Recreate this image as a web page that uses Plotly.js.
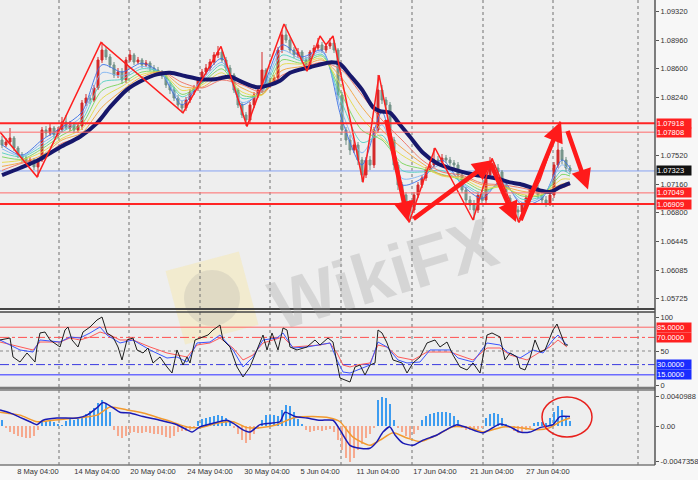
<!DOCTYPE html>
<html><head><meta charset="utf-8">
<script src="https://cdn.plot.ly/plotly-3.0.1.min.js"></script>
<style>html,body{margin:0;padding:0;background:#f7f7f7}#chart{width:698px;height:480px}</style>
</head><body><div id="chart"></div><script>
// ---------- DATA ----------
const dateLabels = ['8 May 04:00','14 May 04:00','20 May 04:00','24 May 04:00','30 May 04:00','5 Jun 04:00','11 Jun 04:00','17 Jun 04:00','21 Jun 04:00','27 Jun 04:00'];
const dateBars = [9,23.75,37.75,52,66.25,79.5,94,108.25,122.5,136.5];
const gridBars = [14.25,31.75,49.5,67,84.75,102.5,120.25,137.75,159];

const opens = [1.07710,1.07648,1.07685,1.07735,1.07610,1.07523,1.07485,1.07423,1.07460,1.07373,
1.07460,1.07835,1.07798,1.07860,1.07773,1.07835,1.07935,1.07860,1.07898,1.07835,
1.07885,1.08173,1.08235,1.08210,1.08360,1.08710,1.08835,1.08748,1.08648,1.08523,
1.08560,1.08460,1.08710,1.08773,1.08685,1.08710,1.08648,1.08673,1.08610,1.08585,
1.08560,1.08510,1.08398,1.08335,1.08235,1.08148,1.08110,1.08210,1.08310,1.08360,
1.08460,1.08560,1.08610,1.08685,1.08773,1.08810,1.08710,1.08610,1.08523,1.08335,
1.08148,1.08023,1.07960,1.08148,1.08273,1.08335,1.08585,1.08398,1.08435,1.08485,
1.08835,1.09023,1.08960,1.08835,1.08773,1.08810,1.08710,1.08648,1.08810,1.08860,
1.08898,1.08835,1.08885,1.08923,1.08835,1.08273,1.07835,1.07710,1.07585,1.07648,
1.07460,1.07273,1.07460,1.07398,1.07835,1.08335,1.08210,1.08148,1.07710,1.07398,
1.07148,1.07023,1.06898,1.06835,1.07023,1.07148,1.07235,1.07335,1.07398,1.07460,
1.07435,1.07485,1.07460,1.07423,1.07398,1.07273,1.07085,1.06960,1.06898,1.06835,
1.07023,1.06960,1.07273,1.07398,1.07360,1.07310,1.07148,1.06985,1.06898,1.06835,
1.06810,1.06898,1.06985,1.07085,1.07110,1.07023,1.06960,1.06923,1.07023,1.07398,
1.07585,1.07460,1.07360];
const closes = [1.07648,1.07685,1.07735,1.07610,1.07523,1.07485,1.07423,1.07460,1.07373,1.07460,
1.07835,1.07798,1.07860,1.07773,1.07835,1.07935,1.07860,1.07898,1.07835,1.07885,
1.08173,1.08235,1.08210,1.08360,1.08710,1.08835,1.08748,1.08648,1.08523,1.08560,
1.08460,1.08710,1.08773,1.08685,1.08710,1.08648,1.08673,1.08610,1.08585,1.08560,
1.08510,1.08398,1.08335,1.08235,1.08148,1.08110,1.08210,1.08310,1.08360,1.08460,
1.08560,1.08610,1.08685,1.08773,1.08810,1.08710,1.08610,1.08523,1.08335,1.08148,
1.08023,1.07960,1.08148,1.08273,1.08335,1.08585,1.08398,1.08435,1.08485,1.08835,
1.09023,1.08960,1.08835,1.08773,1.08810,1.08710,1.08648,1.08810,1.08860,1.08898,
1.08835,1.08885,1.08923,1.08835,1.08273,1.07835,1.07710,1.07585,1.07648,1.07460,
1.07273,1.07460,1.07398,1.07835,1.08335,1.08210,1.08148,1.07710,1.07398,1.07148,
1.07023,1.06898,1.06835,1.07023,1.07148,1.07235,1.07335,1.07398,1.07460,1.07435,
1.07485,1.07460,1.07423,1.07398,1.07273,1.07085,1.06960,1.06898,1.06835,1.07023,
1.06960,1.07273,1.07398,1.07360,1.07310,1.07148,1.06985,1.06898,1.06835,1.06810,
1.06898,1.06985,1.07085,1.07110,1.07023,1.06960,1.06923,1.07023,1.07398,1.07585,
1.07460,1.07360,1.07323];
const highs = [1.07760,1.07735,1.07860,1.07760,1.07635,1.07560,1.07510,1.07498,1.07485,1.07485,
1.07873,1.07885,1.07910,1.07885,1.07873,1.07998,1.08023,1.07948,1.07935,1.07923,
1.08210,1.08285,1.08273,1.08398,1.08748,1.08935,1.08873,1.08785,1.08685,1.08610,
1.08610,1.08748,1.08835,1.08798,1.08748,1.08735,1.08710,1.08698,1.08648,1.08623,
1.08585,1.08535,1.08435,1.08373,1.08273,1.08198,1.08248,1.08348,1.08398,1.08498,
1.08598,1.08660,1.08723,1.08810,1.08885,1.08835,1.08748,1.08648,1.08548,1.08360,
1.08185,1.08060,1.08185,1.08310,1.08385,1.08810,1.08610,1.08485,1.08523,1.08873,
1.09085,1.09160,1.08998,1.08873,1.08860,1.08835,1.08748,1.08835,1.08898,1.08985,
1.08935,1.08923,1.08985,1.08960,1.08860,1.08310,1.07873,1.07773,1.07710,1.07685,
1.07498,1.07498,1.07510,1.07873,1.08523,1.08398,1.08248,1.08185,1.07748,1.07435,
1.07185,1.07060,1.06960,1.07060,1.07185,1.07273,1.07373,1.07435,1.07610,1.07510,
1.07535,1.07523,1.07498,1.07460,1.07435,1.07310,1.07123,1.07010,1.06960,1.07060,
1.07085,1.07310,1.07498,1.07435,1.07410,1.07335,1.07185,1.07023,1.06935,1.06885,
1.06935,1.07023,1.07123,1.07160,1.07148,1.07060,1.07010,1.07085,1.07435,1.07735,
1.07623,1.07498,1.07398];
const lows = [1.07610,1.07623,1.07660,1.07573,1.07485,1.07435,1.07385,1.07385,1.07335,1.07248,
1.07435,1.07748,1.07760,1.07735,1.07735,1.07810,1.07835,1.07823,1.07798,1.07798,
1.07835,1.08135,1.08160,1.08185,1.08335,1.08673,1.08710,1.08610,1.08485,1.08485,
1.08410,1.08423,1.08685,1.08648,1.08660,1.08610,1.08623,1.08573,1.08548,1.08523,
1.08473,1.08360,1.08285,1.08198,1.08098,1.08048,1.08073,1.08173,1.08273,1.08323,
1.08423,1.08523,1.08573,1.08648,1.08735,1.08673,1.08573,1.08485,1.08298,1.08110,
1.07985,1.07885,1.07923,1.08110,1.08235,1.08298,1.08360,1.08360,1.08398,1.08460,
1.08798,1.08923,1.08798,1.08735,1.08735,1.08673,1.08573,1.08610,1.08773,1.08835,
1.08798,1.08798,1.08848,1.08798,1.08210,1.07773,1.07648,1.07523,1.07548,1.07398,
1.07185,1.07235,1.07335,1.07360,1.07798,1.08160,1.08085,1.07648,1.07335,1.07085,
1.06960,1.06835,1.06685,1.06798,1.06985,1.07110,1.07198,1.07310,1.07373,1.07385,
1.07398,1.07423,1.07385,1.07335,1.07235,1.07048,1.06910,1.06835,1.06710,1.06798,
1.06898,1.06923,1.07235,1.07310,1.07260,1.07110,1.06948,1.06860,1.06785,1.06685,
1.06773,1.06860,1.06948,1.07048,1.06973,1.06898,1.06873,1.06885,1.06985,1.07360,
1.07410,1.07310,1.07285];

// rainbow moving-average ribbon (fast -> slow), read every 5 bars
const rainbowBars = [0,5,10,15,20,25,30,35,40,45,50,55,60,65,70,75,80,85,90,95,100,105,110,115,120,125,130,135,140,142];
const ribbon1 = [1.0765,1.0752,1.0771,1.0787,1.0806,1.0865,1.0856,1.0867,1.0853,1.0815,1.0848,1.0873,1.0815,1.0836,1.0890,1.0875,1.0883,1.0796,1.0740,1.0806,1.0715,1.0723,1.0746,1.0715,1.0698,1.0721,1.0690,1.0698,1.0746,1.0736];
const ribbon2 = [1.0760,1.0751,1.0767,1.0783,1.0801,1.0855,1.0851,1.0863,1.0853,1.0820,1.0846,1.0868,1.0818,1.0833,1.0883,1.0872,1.0881,1.0806,1.0755,1.0790,1.0723,1.0727,1.0740,1.0717,1.0702,1.0718,1.0693,1.0700,1.0740,1.0732];
const ribbon3 = [1.0755,1.0750,1.0763,1.0781,1.0796,1.0843,1.0847,1.0860,1.0855,1.0825,1.0843,1.0865,1.0823,1.0831,1.0877,1.0870,1.0878,1.0817,1.0768,1.0777,1.0733,1.0731,1.0733,1.0718,1.0705,1.0716,1.0697,1.0701,1.0733,1.0728];
const ribbon4 = [1.0750,1.0747,1.0760,1.0777,1.0791,1.0833,1.0842,1.0856,1.0855,1.0828,1.0842,1.0860,1.0827,1.0828,1.0871,1.0867,1.0876,1.0827,1.0783,1.0771,1.0742,1.0735,1.0728,1.0721,1.0708,1.0713,1.0701,1.0702,1.0728,1.0726];
const ribbon5 = [1.0743,1.0746,1.0756,1.0773,1.0785,1.0823,1.0838,1.0853,1.0855,1.0833,1.0840,1.0855,1.0831,1.0827,1.0865,1.0866,1.0873,1.0837,1.0798,1.0773,1.0752,1.0738,1.0726,1.0723,1.0711,1.0712,1.0703,1.0703,1.0722,1.0722];
const ribbon6 = [1.0738,1.0743,1.0752,1.0771,1.0780,1.0812,1.0833,1.0850,1.0856,1.0838,1.0837,1.0851,1.0836,1.0828,1.0858,1.0863,1.0871,1.0848,1.0812,1.0783,1.0761,1.0742,1.0727,1.0725,1.0715,1.0713,1.0707,1.0705,1.0716,1.0718];
const ribbon7 = [1.0733,1.0742,1.0748,1.0767,1.0775,1.0802,1.0830,1.0846,1.0856,1.0843,1.0836,1.0846,1.0840,1.0831,1.0852,1.0861,1.0868,1.0858,1.0827,1.0796,1.0771,1.0746,1.0731,1.0727,1.0717,1.0715,1.0711,1.0706,1.0711,1.0715];
const ribbonColors = ['#3b6fe6','#7db4f2','#52cfc0','#79d45a','#e4d948','#f3a23e','#ef6d5e'];

// slow navy moving average
const navyBars = [0,4.5,8.75,14.5,19.5,23.75,27,31.25,35.25,38.75,42,45.75,49.5,53.25,57,60.25,63.75,67,69.5,72,77,82,84.5,87,90,92.75,94.5,97,99.5,102,105.25,108.75,113.75,118.75,123.75,127,129.5,134.5,137,139.5,142];
const navyMA = [1.0727,1.0736,1.0745,1.0762,1.0775,1.0792,1.0812,1.0834,1.0846,1.0853,1.0855,1.0851,1.0847,1.0847,1.0850,1.0843,1.0837,1.0840,1.0845,1.0855,1.0862,1.0868,1.0866,1.0852,1.0834,1.0812,1.0807,1.0805,1.0790,1.0775,1.0755,1.0742,1.0733,1.0727,1.0723,1.0718,1.0716,1.0708,1.0706,1.0712,1.0717];

// zigzag
const zigBars = [-0.5,8.75,24.75,45.25,54.75,61.25,70.5,76.25,79.5,81,82.75,90.25,94.25,101.75,108.25,117.75,122.5,129.25,134.5,139.5];
const zigPrice = [1.0781,1.0725,1.0893,1.0805,1.0888,1.0788,1.0916,1.0857,1.0901,1.0890,1.0901,1.0718,1.0852,1.0668,1.0761,1.0671,1.0748,1.0668,1.0721,1.0794];

// hand-drawn thick arrows: tail -> tip
const arrowTailBar = [96,102.5,122,129.5,141.25];
const arrowTailPrice = [1.0798,1.0671,1.07435,1.0669,1.0784];
const arrowTipBar = [101.5,122.75,128.5,139.75,146.5];
const arrowTipPrice = [1.0669,1.0746,1.06685,1.0794,1.0709];

const priceLevels = [1.07918,1.07808,1.07049,1.06909];
const levelWidths = [2,1,1,2];
const bidPrice = 1.07323;
const priceTicks = [1.09320,1.08960,1.08600,1.08240,1.07520,1.07160,1.06800,1.06445,1.06085,1.05725];

// oscillator panel
const oscLevels = [85,70,50,30,15];
const blackX = [-0.5,2,2.75,4.5,6.25,7.5,8.25,8.75,9.5,10.75,12,14.5,15.75,16.5,17.5,19,20.25,22,23.75,25,26.25,27.75,29,30,31.25,32.75,33.75,35.25,36.5,37.75,39.5,41.25,42.5,43.75,45.25,46.25,47,48.25,49.5,51.5,52.75,54.5,55.25,57,58.75,60.25,62,63.75,65.25,66.25,67.5,69,70.25,71.25,72,73.75,76.25,78.25,79.5,81.5,82.75,83.75,84.5,87,88.25,89.5,90.75,92,93.25,94,95,96.25,97.75,100,101.25,102.75,104.5,106.25,108.25,109.5,111.25,112.75,114.5,116.25,117.75,119.5,121.25,122.5,124.5,125.75,127,128.75,129.5,130.75,132,133.25,134.5,135.75,136.5,137.75,138.75,140,140.75,141.5];
const blackY = [66.2,69.1,41.2,33.8,47.1,39.7,33.8,55.9,76.5,77.9,66.2,55.9,80.9,85.3,66.2,55.9,77.9,85.3,95.6,100,76.5,70.6,55.9,36.8,66.2,69.1,51.5,47.1,54.4,32.4,41.2,26.5,17.6,51.5,29.4,41.2,32.4,66.2,69.1,73.5,80.9,88.2,66.2,55.9,26.5,11.8,26.5,51.5,73.5,51.5,76.5,51.5,83.8,80.9,55.9,51.5,55.9,66.2,58.8,69.1,63.2,32.4,10.3,4.4,26.5,29.4,14.7,29.4,32.4,80.9,76.5,61.8,36.8,32.4,17.6,32.4,41.2,61.8,66.2,55.9,63.2,44.1,26.5,22.1,32.4,17.6,73.5,76.5,70.6,36.8,47.1,41.2,25.0,22.1,39.7,66.2,48.5,51.5,63.2,80.9,89.7,70.6,58.8,58.8];
const blueX = [-0.5,4.5,7.75,9.5,14.5,17,19.5,22,24.5,26.25,29.5,32.75,37,41.25,43.75,46.25,48.75,52,54.5,57.75,60.25,62.75,65.25,68.75,70.25,72.75,76.25,79.5,82,83.75,85.25,87,88.75,92,94,96.25,99,101.25,104.5,107,112,114,117.75,121.25,124.5,126.25,129.5,132.75,135.25,137.75,139,141.25];
const blueY = [66.2,51.5,48.5,66.2,63.2,70.6,69.1,76.5,85.3,73.5,61.8,66.2,51.5,39.7,41.2,33.8,61.8,63.2,73.5,51.5,26.5,41.2,66.2,69.1,76.5,54.4,55.9,58.8,61.8,36.8,19.1,17.6,22.1,29.4,63.2,55.9,36.8,32.4,33.8,51.5,51.5,39.7,33.8,61.8,58.8,48.5,39.7,51.5,47.1,66.2,73.5,58.8];
const redX = [-0.5,4.5,7.75,9.5,14.5,17,19.5,22,24.5,27,29.5,32.75,37,41.25,46.25,48.75,52,54.5,57.75,60.25,62.75,65.25,70.25,72.75,79.5,82,83.75,85.25,87,88.75,92,94,96.25,99,102.75,106.25,112,116.25,117.75,121.25,124.5,127,131.25,134.5,137,139,141.25];
const redY = [63.2,55.9,51.5,63.2,63.2,69.1,66.2,70.6,77.9,73.5,66.2,66.2,55.9,47.1,41.2,58.8,61.8,69.1,54.4,36.8,44.1,61.8,70.6,55.9,58.8,61.8,47.1,29.4,26.5,29.4,32.4,58.8,55.9,41.2,36.8,48.5,48.5,39.7,36.8,54.4,54.4,44.1,36.8,48.5,55.9,66.2,55.9];

// MACD panel
const macdHist = [0.00082,-0.00027,-0.00082,-0.00109,-0.00136,-0.00150,-0.00163,-0.00163,-0.00136,-0.00054,
0.00054,0.00068,0.00068,0.00054,0.00027,0.00014,0.00068,0.00095,0.00082,0.00095,
0.00122,0.00163,0.00204,0.00245,0.00313,0.00354,0.00313,0.00190,-0.00054,-0.00136,
-0.00163,-0.00136,-0.00095,-0.00082,-0.00095,-0.00095,-0.00082,-0.00095,-0.00109,-0.00109,
-0.00122,-0.00150,-0.00163,-0.00136,-0.00082,-0.00068,-0.00068,-0.00054,-0.00027,0.00068,
0.00095,0.00109,0.00122,0.00136,0.00150,0.00136,0.00109,0.00054,-0.00027,-0.00109,
-0.00190,-0.00231,-0.00190,-0.00109,-0.00041,0.00082,0.00150,0.00150,0.00150,0.00136,
0.00218,0.00286,0.00272,0.00190,0.00095,0.00027,-0.00054,-0.00082,-0.00068,-0.00054,
-0.00068,-0.00054,-0.00041,-0.00082,-0.00190,-0.00326,-0.00435,-0.00490,-0.00435,-0.00326,
-0.00245,-0.00163,-0.00109,-0.00027,0.00354,0.00394,0.00381,0.00299,0.00082,-0.00027,
-0.00082,-0.00136,-0.00163,-0.00109,-0.00054,0.00082,0.00136,0.00163,0.00177,0.00190,
0.00190,0.00190,0.00177,0.00136,0.00082,-0.00027,-0.00054,-0.00054,-0.00054,-0.00041,
-0.00027,0.00109,0.00163,0.00177,0.00163,0.00109,0.00027,-0.00027,-0.00068,-0.00095,
-0.00082,-0.00054,-0.00027,0.00041,0.00054,0.00054,0.00041,0.00109,0.00190,0.00272,
0.00218,0.00136,0.00068];
const macdX = [-0.5,2,4.5,7,8.75,10.25,13.75,18.75,21.25,23.75,25.25,27.75,29.5,32,35.25,39.5,43.75,46.25,47.5,49.5,52.75,56.25,57.75,60.25,62,64.5,67,69.5,70.75,73.25,76.25,79.5,82.75,84.5,87,89.5,92,93.75,95.25,97,98.25,100.25,102.75,105.25,108.75,112,113.75,116.25,120.25,124.5,127,129.5,132,134.5,137.75,139.5,142];
const macdLine = [0.0022,0.0018,0.0012,0.0006,0.0002,0.0008,0.0011,0.0011,0.0015,0.0025,0.0032,0.0025,0.0019,0.0018,0.0013,0.0008,0.0002,-0.0005,-0.0008,-0.0001,0.0004,0.0008,0.0004,-0.0005,-0.0008,0.0002,0.0004,0.0006,0.0019,0.0013,0.0011,0.0008,0.0008,-0.0005,-0.0026,-0.0030,-0.0030,-0.0021,-0.0008,-0.0001,-0.0012,-0.0023,-0.0026,-0.0019,-0.0012,-0.0002,0.0002,-0.0002,-0.0009,0.0003,-0.0001,-0.0008,-0.0008,-0.0002,0.0002,0.0013,0.0013];
const sigX = [-0.5,4.5,8.75,12.75,18.75,23.75,27,31.25,35.25,41.25,46.25,49.5,53.75,57.75,61.25,64.5,68.75,72.75,77.75,82,84.5,87.75,92,94.5,97.75,101.25,104.5,108.75,112.75,117,120.25,125.25,129.5,133.75,137,139.5,142];
const sigLine = [0.0019,0.0015,0.0006,0.0008,0.0011,0.0015,0.0026,0.0022,0.0018,0.0008,-0.0001,-0.0002,0.0004,0.0006,-0.0002,-0.0002,0.0002,0.0011,0.0013,0.0011,0.0006,-0.0015,-0.0026,-0.0019,-0.0009,-0.0016,-0.0021,-0.0012,-0.0001,-0.0002,-0.0008,-0.0001,-0.0002,-0.0005,-0.0002,0.0006,0.0011];
const macdTicks = [0.0040988,0,-0.0047358];
const macdTickText = ['0.0040988','0.00','-0.0047358'];
const circleBars = [135,147.5];
const circleVals = [-0.00147,0.00397];

// ---------- CHART ----------
const FONT = 'Liberation Sans, Arial, sans-serif';
const bars = opens.map((_, i) => i);
const D_MAIN = [0.33548, 1], D_OSC = [0.16559, 0.32903], D_MACD = [0, 0.16129];

const traces = [];
[ribbon1,ribbon2,ribbon3,ribbon4,ribbon5,ribbon6,ribbon7].forEach((r, k) => {
  traces.push({type:'scatter', mode:'lines', x:rainbowBars, y:r, xaxis:'x', yaxis:'y',
    line:{color:ribbonColors[k], width:1, shape:'spline', smoothing:0.8}, opacity:0.9, hoverinfo:'skip'});
});
traces.push({type:'candlestick', x:bars, open:opens, high:highs, low:lows, close:closes, xaxis:'x', yaxis:'y',
  increasing:{line:{color:'#d42a2a', width:1}, fillcolor:'#d42a2a'},
  decreasing:{line:{color:'#6f8f84', width:1}, fillcolor:'#7f9c92'}, whiskerwidth:0, hoverinfo:'skip'});
traces.push({type:'scatter', mode:'lines', x:navyBars, y:navyMA, xaxis:'x', yaxis:'y',
  line:{color:'#17176b', width:4, shape:'spline', smoothing:0.8}, hoverinfo:'skip'});
traces.push({type:'scatter', mode:'lines', x:zigBars, y:zigPrice, xaxis:'x', yaxis:'y',
  line:{color:'#ff1e1e', width:1.5}, hoverinfo:'skip'});

traces.push({type:'scatter', mode:'lines', x:redX, y:redY, xaxis:'x', yaxis:'y2', line:{color:'#ff5a5a', width:1}, hoverinfo:'skip'});
traces.push({type:'scatter', mode:'lines', x:blueX, y:blueY, xaxis:'x', yaxis:'y2', line:{color:'#3a55ff', width:1}, hoverinfo:'skip'});
traces.push({type:'scatter', mode:'lines', x:blackX, y:blackY, xaxis:'x', yaxis:'y2', line:{color:'#1e1e1e', width:1}, hoverinfo:'skip'});

traces.push({type:'bar', x:bars, y:macdHist, xaxis:'x', yaxis:'y3', width:0.6,
  marker:{color:macdHist.map(v => v >= 0 ? '#3d9cf0' : '#f6a98e'), line:{width:0}}, hoverinfo:'skip'});
traces.push({type:'scatter', mode:'lines', x:sigX, y:sigLine, xaxis:'x', yaxis:'y3', line:{color:'#f29a2e', width:1.5, shape:'spline', smoothing:0.6}, hoverinfo:'skip'});
traces.push({type:'scatter', mode:'lines', x:macdX, y:macdLine, xaxis:'x', yaxis:'y3', line:{color:'#1a1ab4', width:1.5, shape:'spline', smoothing:0.6}, hoverinfo:'skip'});

const shapes = [];
// watermark logo
shapes.push({type:'path', xref:'paper', yref:'paper', layer:'below',
  path:'M 0.2527 0.4170 L 0.3647 0.4591 L 0.3947 0.3013 L 0.2826 0.2591 Z',
  fillcolor:'rgba(250,228,150,0.35)', line:{width:0}});
shapes.push({type:'circle', xref:'paper', yref:'paper', layer:'below', x0:0.2809, x1:0.3664, y0:0.2989, y1:0.4194,
  fillcolor:'rgba(160,160,160,0.22)', line:{width:0}});
// vertical grid
gridBars.forEach(g => shapes.push({type:'line', xref:'x', yref:'paper', x0:g, x1:g, y0:0, y1:1, layer:'below',
  line:{color:'#707070', width:1, dash:'dot'}}));
// price levels
priceLevels.forEach((p, k) => shapes.push({type:'line', xref:'paper', yref:'y', x0:0, x1:1, y0:p, y1:p,
  line:{color: levelWidths[k] > 1 ? '#ff2424' : '#ff6a6a', width:levelWidths[k]}}));
shapes.push({type:'line', xref:'paper', yref:'y', x0:0, x1:1, y0:bidPrice, y1:bidPrice, layer:'below', line:{color:'#86a2f2', width:1}});
// oscillator levels
const oscStyles = [{color:'#ff6464',width:1},{color:'#ff5050',width:1,dash:'dashdot'},{color:'#8a8a8a',width:1,dash:'dot'},{color:'#3a3ae0',width:1,dash:'dashdot'},{color:'#6c6cff',width:1.5}];
oscLevels.forEach((v, k) => shapes.push({type:'line', xref:'paper', yref:'y2', x0:0, x1:1, y0:v, y1:v, layer:'below', line:oscStyles[k]}));
// circle in MACD
shapes.push({type:'circle', xref:'x', yref:'y3', x0:circleBars[0], x1:circleBars[1], y0:circleVals[0], y1:circleVals[1], line:{color:'#e8201c', width:1.5}});
// panel borders
[[D_MAIN[0],'#444',2],[D_OSC[1],'#444',1.5],[D_OSC[0],'#7a7a7a',2.5],[D_MACD[1],'#7a7a7a',1.5],[0,'#7a7a7a',1.5]].forEach(b =>
  shapes.push({type:'line', xref:'paper', yref:'paper', x0:0, x1:1, y0:b[0], y1:b[0], line:{color:b[1], width:b[2]}}));
shapes.push({type:'line', xref:'paper', yref:'paper', x0:1, x1:1, y0:0, y1:1, line:{color:'#555', width:1.5}});

const annotations = [];
annotations.push({xref:'paper', yref:'paper', x:0.585, y:0.41, text:'<b>WikiFX</b>', showarrow:false, textangle:-17,
  font:{family:FONT, size:70, color:'rgba(165,165,165,0.33)'}});
arrowTipBar.forEach((xb, k) => annotations.push({xref:'x', yref:'y', axref:'x', ayref:'y', x:xb, y:arrowTipPrice[k],
  ax:arrowTailBar[k], ay:arrowTailPrice[k], text:'', showarrow:true, arrowhead:2, arrowsize:0.9, arrowwidth:4.5, arrowcolor:'#ff1a1a', standoff:0}));
const boxFont = {family:FONT, size:7.5, color:'#ffffff'};
priceLevels.forEach(p => annotations.push({xref:'paper', yref:'y', x:1, y:p, xanchor:'left', xshift:1, text:p.toFixed(5),
  showarrow:false, bgcolor:'#ff2020', font:boxFont, width:34, align:'left', borderpad:0}));
annotations.push({xref:'paper', yref:'y', x:1, y:bidPrice, xanchor:'left', xshift:1, text:bidPrice.toFixed(5),
  showarrow:false, bgcolor:'#111111', font:boxFont, width:34, align:'left', borderpad:0});
oscLevels.forEach((v, k) => { if (v === 50) return;
  annotations.push({xref:'paper', yref:'y2', x:1, y:v, xanchor:'left', xshift:1, text:v.toFixed(4),
    showarrow:false, bgcolor: v > 50 ? '#ff2020' : '#1a2cff', font:boxFont, width:34, align:'left', borderpad:0}); });

const tickFont = {family:FONT, size:7.5, color:'#333'};
const layout = {
  width:698, height:480, margin:{l:0, r:43, t:0, b:15},
  paper_bgcolor:'#f7f7f7', plot_bgcolor:'#eeeeee', showlegend:false, hovermode:false, bargap:0,
  xaxis:{domain:[0,1], range:[-0.5,163.25], anchor:'y3', tickmode:'array', tickvals:dateBars, ticktext:dateLabels,
    showgrid:false, zeroline:false, ticks:'', tickfont:tickFont, rangeslider:{visible:false}, fixedrange:true},
  yaxis:{domain:D_MAIN, range:[1.055975,1.0946], side:'right', anchor:'x', tickmode:'array', tickvals:priceTicks,
    ticktext:priceTicks.map(v => v.toFixed(5)), ticks:'outside', ticklen:3, tickcolor:'#555', showgrid:false, zeroline:false, tickfont:tickFont},
  yaxis2:{domain:D_OSC, range:[-4.41,107.35], side:'right', anchor:'x', tickmode:'array', tickvals:[100,50,0], ticktext:['100','50','0'],
    ticks:'outside', ticklen:3, tickcolor:'#555', showgrid:false, zeroline:false, tickfont:tickFont},
  yaxis3:{domain:D_MACD, range:[-0.0052795,0.0049143], side:'right', anchor:'x', tickmode:'array', tickvals:macdTicks, ticktext:macdTickText,
    ticks:'outside', ticklen:3, tickcolor:'#555', showgrid:false, zeroline:false, tickfont:tickFont},
  shapes:shapes, annotations:annotations
};
Plotly.newPlot('chart', traces, layout, {staticPlot:true, displayModeBar:false});
</script></body></html>
